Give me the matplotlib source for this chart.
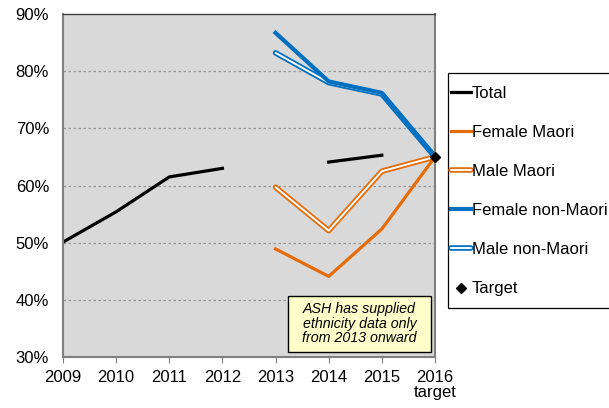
import matplotlib
matplotlib.use("Agg")
import matplotlib.pyplot as plt
from matplotlib.lines import Line2D
from matplotlib.patches import Rectangle
from matplotlib.legend_handler import HandlerTuple
import numpy as np

plt.rcParams['font.family'] = ['Liberation Sans', 'DejaVu Sans']

# ─── Data ─────────────────────────────────────────────────────────────────────
tick_labels = ["2009", "2010", "2011", "2012", "2013", "2014", "2015", "2016\ntarget"]
years = np.arange(2009, 2017)

total_a_years = [2009, 2010, 2011, 2012]
total_a = [50.1, 55.4, 61.5, 63.0]
total_b_years = [2014, 2015]
total_b = [64.1, 65.3]

eth_years = [2013, 2014, 2015, 2016]
female_maori = [48.9, 44.1, 52.4, 65.0]
male_maori = [59.7, 52.1, 62.5, 65.0]
female_non_maori = [86.7, 78.2, 76.2, 65.0]
male_non_maori = [83.2, 78.0, 76.0, 65.0]

target_year = [2016]
target = [65.0]

ORANGE = "#E46C0A"
BLUE = "#0070C0"
HOLLOW_OUT, HOLLOW_IN = 4.0, 1.4

# ─── Plot ─────────────────────────────────────────────────────────────────────
fig = plt.figure(figsize=(6.09, 4.08), dpi=100)
ax = fig.add_axes([63 / 609, 1 - 357 / 408, 372 / 609, 343 / 408])
ax.set_facecolor("#D9D9D9")

ax.plot(total_a_years, total_a, color="black", lw=2.3)
ax.plot(total_b_years, total_b, color="black", lw=2.3)
ax.plot(eth_years, female_maori, color=ORANGE, lw=2.3)
ax.plot(eth_years, male_maori, color=ORANGE, lw=HOLLOW_OUT, solid_capstyle="round")
ax.plot(eth_years, male_maori, color="white", lw=HOLLOW_IN, solid_capstyle="round")
ax.plot(eth_years, male_non_maori, color=BLUE, lw=HOLLOW_OUT, solid_capstyle="round")
ax.plot(eth_years, male_non_maori, color="white", lw=HOLLOW_IN, solid_capstyle="round")
ax.plot(eth_years, female_non_maori, color=BLUE, lw=3.0)
ax.plot(target_year, target, "D", color="black", ms=5.5, clip_on=False, zorder=5)

ax.set_xlim(2009, 2016)
ax.set_ylim(30, 90)
ax.set_xticks(years)
ax.set_xticklabels(tick_labels, fontsize=12)
ax.set_yticks(np.arange(30, 91, 10))
ax.set_yticklabels([f"{v}%" for v in range(30, 91, 10)], fontsize=12)
ax.tick_params(axis="y", length=0, pad=10)
ax.tick_params(axis="x", length=4, color="#808080", pad=5)
for lbl in ax.get_xticklabels():
    lbl.set_linespacing(1.0)

for y in range(40, 90, 10):
    ax.axhline(y, color="#999999", lw=0.9, ls=(0, (2, 2)), zorder=0)
for side in ["left", "bottom", "right"]:
    ax.spines[side].set_color("#808080")
    ax.spines[side].set_linewidth(1.5)
ax.spines["top"].set_color("#404040")
ax.spines["top"].set_linewidth(1.0)

# note box
ax.add_patch(Rectangle((0.605, 0.015), 0.384, 0.163, transform=ax.transAxes,
                       fc="#FFFFCC", ec="black", lw=1.0, zorder=6))
ax.text(0.797, 0.097,
        "ASH has supplied\nethnicity data only\nfrom 2013 onward",
        transform=ax.transAxes, ha="center", va="center", fontsize=10.3,
        style="italic", linespacing=1.05, zorder=7)

# ─── Legend ───────────────────────────────────────────────────────────────────
h_total = Line2D([], [], color="black", lw=2.3)
h_fm = Line2D([], [], color=ORANGE, lw=2.3)
h_mm = (Line2D([], [], color=ORANGE, lw=HOLLOW_OUT, solid_capstyle="round"),
        Line2D([], [], color="white", lw=HOLLOW_IN, solid_capstyle="round"))
h_fn = Line2D([], [], color=BLUE, lw=3.0)
h_mn = (Line2D([], [], color=BLUE, lw=HOLLOW_OUT, solid_capstyle="round"),
        Line2D([], [], color="white", lw=HOLLOW_IN, solid_capstyle="round"))
h_t = Line2D([], [], marker="D", color="black", ls="none", ms=5)

fig.patches.append(Rectangle((448 / 609, 1 - 308 / 408), 170 / 609, 235 / 408,
                             transform=fig.transFigure, fc="white", ec="black", lw=0.9))
fig.legend([h_total, h_fm, h_mm, h_fn, h_mn, h_t],
           ["Total", "Female Maori", "Male Maori", "Female non-Maori", "Male non-Maori", "Target"],
           handler_map={tuple: HandlerTuple(ndivide=1, pad=0)},
           loc="upper left", bbox_to_anchor=(451 / 609, 1 - 85.5 / 408),
           fontsize=12, frameon=False,
           handlelength=1.2, handletextpad=0.05, labelspacing=1.45,
           borderpad=0, borderaxespad=0)

fig.savefig("out.png", dpi=100)
